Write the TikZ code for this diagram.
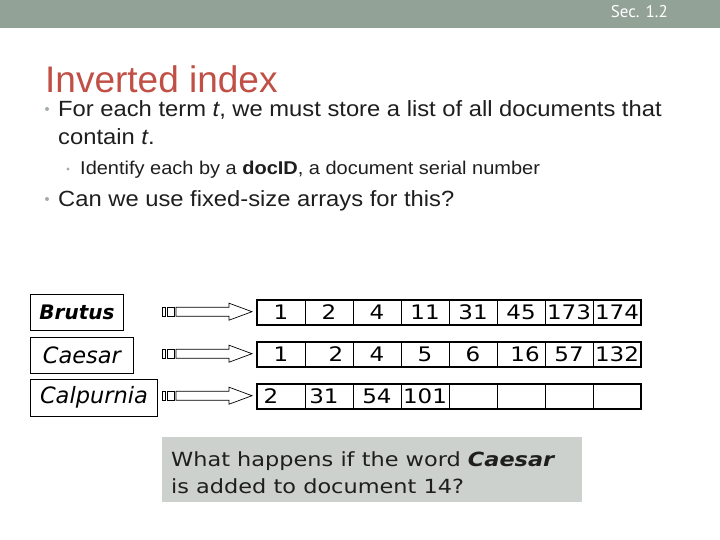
\documentclass[tikz,border=0pt]{standalone}
\usepackage{fontspec}
\setmainfont{Liberation Sans}
\newfontfamily\bodyfont[FakeStretch=1.08]{Liberation Sans}
\newfontfamily\termfont{DejaVu Sans}
\newfontfamily\listfont[FakeStretch=1.15]{DejaVu Sans}
\newfontfamily\secfont{PT Sans}
\usetikzlibrary{positioning}

\definecolor{barGray}{RGB}{146,162,151}
\definecolor{titleRed}{RGB}{192,80,70}
\definecolor{dotGray}{RGB}{165,172,167}
\definecolor{noteGray}{RGB}{205,209,205}
\definecolor{inkGray}{RGB}{30,30,30}

\newcommand{\Fsize}[1]{\fontsize{#1}{#1}\selectfont}
\newcommand{\Wcell}{48pt}
\newcommand{\Hcell}{25pt}

\tikzstyle{term} = [draw=black, line width=0.9pt, inner sep=0pt, minimum height=36pt, font=\termfont\itshape\Fsize{22.5}]
\tikzstyle{cell} = [draw=black, line width=0.9pt, inner sep=0pt, outer sep=0pt, minimum width=\Wcell, minimum height=\Hcell, font=\listfont\Fsize{20}]
\tikzstyle{listframe} = [draw=black, line width=2.8pt]
\tikzstyle{feed} = [draw=black, line width=0.7pt, fill=white]
\tikzstyle{para} = [anchor=base west, inner sep=0pt, text=inkGray]
\tikzstyle{dot} = [fill=dotGray]

\begin{document}
\begin{tikzpicture}[x=1pt, y=-1pt]
\useasboundingbox (0,0) rectangle (720,540);

% Header
\fill[barGray] (0,0) rectangle (720,28);
\node[anchor=base east, inner sep=0pt, text=white, font=\secfont\Fsize{17}] (sec) at (668,18) {Sec. 1.2};

% Title and bullets
\node[para, text=titleRed, font=\Fsize{37}]                            (title) at (45,93) {Inverted index};
\node[para, font=\bodyfont\Fsize{22}]                                  (l1) at (58,117) {For each term \textit{t}, we must store a list of all documents that};
\node[para, font=\bodyfont\Fsize{22}, below=28pt of l1.base west, anchor=base west]              (l2) {contain \textit{t}.};
\node[para, font=\bodyfont\Fsize{18.5}, below=30pt of l2.base west, anchor=base west, xshift=22pt] (l3) {Identify each by a \textbf{docID}, a document serial number};
\node[para, font=\bodyfont\Fsize{22}, below=32pt of l3.base west, anchor=base west, xshift=-22pt] (l4) {Can we use fixed-size arrays for this?};

\fill[dot] ([xshift=-11pt, yshift=8pt]l1.base west) circle (2pt);
\fill[dot] ([xshift=-12pt, yshift=6pt]l3.base west) circle (1.6pt);
\fill[dot] ([xshift=-11pt, yshift=8pt]l4.base west) circle (2pt);

% Terms
\node[term, minimum width=93pt, anchor=north west] (brutus) at (30,294) {\bfseries\Fsize{20}Brutus};
\node[term, minimum width=103pt, below=6pt of brutus.south west, anchor=north west] (caesar) {Caesar};
\node[term, minimum width=127pt, minimum height=37pt, below=5pt of caesar.south west, anchor=north west] (calpurnia) {Calpurnia};

% Postings
\node[cell] (bru1) at (281,312.5) {1};
\foreach \v [count=\i from 2, remember=\i as \k (initially 1)] in {2,4,11,31,45,173,174}
  \node[cell, right=0pt of bru\k] (bru\i) {\v};
\node[cell, below=17pt of bru1] (cae1) {1};
\foreach \v [count=\i from 2, remember=\i as \k (initially 1)] in {\kern14pt 2,4,5,6,\kern8pt 16,57,132}
  \node[cell, right=0pt of cae\k] (cae\i) {\v};
\node[cell, below=17pt of cae1] (cal1) {2\kern20pt};
\foreach \v [count=\i from 2, remember=\i as \k (initially 1)] in {31\kern10pt,54,101,{},{},{},{}}
  \node[cell, right=0pt of cal\k] (cal\i) {\v};

\foreach \row in {bru,cae,cal}
  \draw[listframe] (\row1.north west) rectangle (\row8.south east);

% Pointers
\foreach \row in {bru,cae,cal} {
  \coordinate (\row-tip) at ([xshift=-5pt, yshift=0.8pt]\row1.west);
  \draw[feed] (\row-tip) -- ++(-23,-8.5) -- ++(0,4) -- ++(-53,0) -- ++(0,9) -- ++(53,0) -- ++(0,4) -- cycle;
  \draw[feed] ([xshift=-78pt, yshift=4.5pt]\row-tip) rectangle ++(-7,9);
  \draw[feed] ([xshift=-87pt, yshift=4.5pt]\row-tip) rectangle ++(-3,9);
}

% Question
\node[fill=noteGray, anchor=north west, minimum width=420pt, minimum height=65pt, inner sep=0pt] (note) at (162,437) {};
\node[anchor=north west, inner sep=0pt, align=left, text=inkGray, font=\listfont\Fsize{19.5}]
  (question) at ([xshift=9pt, yshift=-14pt]note.north west) {What happens if the word \textbf{\itshape Caesar}\\[8pt]is added to document 14?};
\end{tikzpicture}
\end{document}
